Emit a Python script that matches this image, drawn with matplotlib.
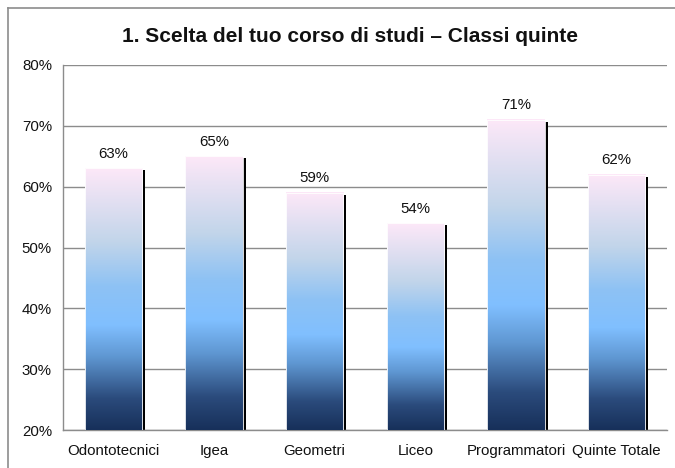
import numpy as np
import matplotlib.pyplot as plt
from matplotlib.colors import LinearSegmentedColormap
from matplotlib.patches import Rectangle
from matplotlib.lines import Line2D

plt.rcParams['font.family'] = ['Liberation Sans', 'DejaVu Sans']

# dati
corsi = ['Odontotecnici', 'Igea', 'Geometri', 'Liceo', 'Programmatori', 'Quinte Totale']
percentuali = [63, 65, 59, 54, 71, 62]

base = 20
larghezza = 0.57

# sfumatura delle barre: blu scuro in basso, rosa in alto
sfumatura = LinearSegmentedColormap.from_list('barre', [
    (0.00, '#17305a'),
    (0.12, '#2b4b7c'),
    (0.28, '#5f97d2'),
    (0.40, '#80bfff'),
    (0.55, '#8ec2f4'),
    (0.72, '#c2d5ea'),
    (1.00, '#fde8f8'),
])
gradiente = np.linspace(0, 1, 256).reshape(-1, 1)

fig = plt.figure(figsize=(6.75, 4.68), dpi=100)
ax = fig.add_axes([63 / 675, 38 / 468, 604 / 675, 365 / 468])

# cornice esterna (solo lati sinistro e superiore visibili)
xc, yc = 8 / 675, 1 - 8 / 468
fig.lines.append(Line2D([xc, 1.0], [yc, yc], transform=fig.transFigure,
                        color='#8c8c8c', linewidth=1.2))
fig.lines.append(Line2D([xc, xc], [0.0, yc], transform=fig.transFigure,
                        color='#8c8c8c', linewidth=1.2))

x = np.arange(len(corsi))
# scostamento dell'ombra in unita' dei dati (circa 3 px a destra, 2 px in basso)
dx = 3.0 * len(corsi) / 604
dy = 2.0 * 60 / 365

for xi, v in zip(x, percentuali):
    x0 = xi - larghezza / 2
    # ombra nera
    ax.add_patch(Rectangle((x0 + dx, base), larghezza, v - base - dy,
                           facecolor='black', edgecolor='none', zorder=2))
    # barra con sfumatura
    ax.imshow(gradiente, cmap=sfumatura, origin='lower', aspect='auto',
              extent=[x0, x0 + larghezza, base, v], zorder=3, interpolation='bilinear')
    ax.add_patch(Rectangle((x0, base), larghezza, v - base, fill=False,
                           edgecolor='white', linewidth=0.6, zorder=4))
    ax.text(xi, v + 1.2, f'{v}%', ha='center', va='bottom', fontsize=10.8, color='#111111')

ax.set_xlim(-0.5, len(corsi) - 0.5)
ax.set_ylim(20, 80)
ax.set_yticks(range(20, 81, 10))
ax.set_yticklabels([f'{t}%' for t in range(20, 81, 10)])
ax.set_xticks(x)
ax.set_xticklabels(corsi)
ax.tick_params(axis='both', length=0, labelsize=10.8, colors='#111111')
ax.tick_params(axis='y', pad=8)
ax.tick_params(axis='x', pad=10)

ax.yaxis.grid(True, color='#8c8c8c', linewidth=1.0)
ax.set_axisbelow(True)
for lato in ['top', 'right']:
    ax.spines[lato].set_visible(False)
for lato in ['left', 'bottom']:
    ax.spines[lato].set_color('#8c8c8c')
    ax.spines[lato].set_linewidth(1.0)

fig.text(350 / 675, 1 - 36 / 468, '1. Scelta del tuo corso di studi \u2013 Classi quinte',
         ha='center', va='center', fontsize=15, fontweight='bold', color='#111111')

fig.savefig('out.png', dpi=100, facecolor='white')
